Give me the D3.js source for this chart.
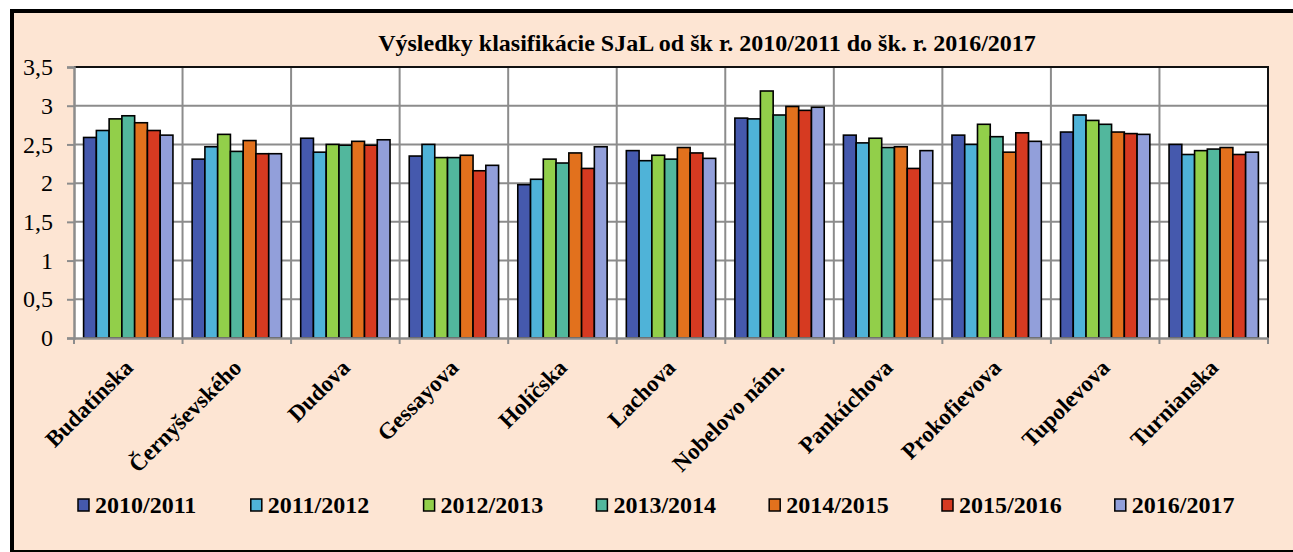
<!DOCTYPE html>
<html><head><meta charset="utf-8">
<script src="https://cdn.jsdelivr.net/npm/d3@7"></script>
<style>
html,body{margin:0;padding:0;background:#fff;}
svg{display:block;}
text{font-family:"Liberation Serif","Times New Roman",serif;}
</style></head>
<body>
<svg id="chart" width="1293" height="552"></svg>
<script>
const categories = ["Budatínska","Černyševského","Dudova","Gessayova","Holíčska","Lachova","Nobelovo nám.","Pankúchova","Prokofievova","Tupolevova","Turnianska"];
const seriesNames = ["2010/2011","2011/2012","2012/2013","2013/2014","2014/2015","2015/2016","2016/2017"];
const seriesColors = ["#4559ad","#4fb3d8","#92cf4a","#52b79d","#e2711d","#d63a21","#929fda"];
const s2010 = [2.59,2.31,2.58,2.35,1.98,2.42,2.84,2.62,2.62,2.66,2.50];
const s2011 = [2.68,2.47,2.40,2.50,2.05,2.29,2.83,2.52,2.50,2.88,2.37];
const s2012 = [2.83,2.63,2.50,2.33,2.31,2.36,3.19,2.58,2.76,2.81,2.42];
const s2013 = [2.87,2.41,2.49,2.33,2.26,2.31,2.88,2.46,2.60,2.76,2.44];
const s2014 = [2.78,2.55,2.54,2.36,2.39,2.46,2.99,2.47,2.40,2.66,2.46];
const s2015 = [2.68,2.38,2.49,2.16,2.19,2.39,2.94,2.19,2.65,2.64,2.37];
const s2016 = [2.62,2.38,2.56,2.23,2.47,2.32,2.98,2.42,2.54,2.63,2.40];
const yTicks = [0,0.5,1,1.5,2,2.5,3,3.5];
const yTickLabels = ["0","0,5","1","1,5","2","2,5","3","3,5"];
const title = "Výsledky klasifikácie SJaL od šk r. 2010/2011 do šk. r. 2016/2017";

const seriesValues = [s2010,s2011,s2012,s2013,s2014,s2015,s2016];

const svg = d3.select("#chart");
const W = 1293, H = 552;
const plot = {left:74, right:1268, top:67, bottom:338};

// chart area background + frame
svg.append("rect").attr("x",12).attr("y",11).attr("width",1400).attr("height",541)
  .attr("fill","#fde5d3").attr("stroke","#000").attr("stroke-width",4);

const x0 = d3.scaleBand().domain(categories).range([plot.left, plot.right]).padding(0);
const groupPad = 9.6;
const x1 = d3.scaleBand().domain(seriesNames).range([groupPad, x0.bandwidth()-groupPad]).padding(0);
const y = d3.scaleLinear().domain([0,3.5]).range([plot.bottom, plot.top]);

// plot area
svg.append("rect").attr("x",plot.left).attr("y",plot.top)
  .attr("width",plot.right-plot.left).attr("height",plot.bottom-plot.top).attr("fill","#fff");

// grid lines
const gridColor = "#8c8c8c";
svg.append("g").selectAll("line").data(yTicks.slice(1,-1)).join("line")
  .attr("x1",plot.left).attr("x2",plot.right)
  .attr("y1",d=>y(d)).attr("y2",d=>y(d))
  .attr("stroke",gridColor).attr("stroke-width",2);
svg.append("g").selectAll("line").data(categories.slice(1)).join("line")
  .attr("x1",d=>x0(d)).attr("x2",d=>x0(d))
  .attr("y1",plot.top).attr("y2",plot.bottom)
  .attr("stroke",gridColor).attr("stroke-width",2);

// bars
const groups = svg.append("g").selectAll("g").data(categories).join("g")
  .attr("transform",d=>`translate(${x0(d)},0)`);
groups.selectAll("rect").data((c,ci)=>seriesNames.map((s,si)=>({s,si,v:seriesValues[si][ci]}))).join("rect")
  .attr("x",d=>x1(d.s)).attr("width",x1.bandwidth())
  .attr("y",d=>y(d.v)).attr("height",d=>y(0)-y(d.v))
  .attr("fill",d=>seriesColors[d.si]).attr("stroke","#000").attr("stroke-width",1.6);

// plot frame: top & right black
svg.append("line").attr("x1",plot.left).attr("x2",plot.right+1).attr("y1",plot.top).attr("y2",plot.top)
  .attr("stroke","#111").attr("stroke-width",2);
svg.append("line").attr("x1",plot.right).attr("x2",plot.right).attr("y1",plot.top).attr("y2",plot.bottom)
  .attr("stroke","#111").attr("stroke-width",2);

// y axis
const yAxis = d3.axisLeft(y).tickValues(yTicks).tickSize(7).tickPadding(14)
  .tickFormat((d,i)=>yTickLabels[i]);
const gy = svg.append("g").attr("transform",`translate(${plot.left},0)`).call(yAxis);
gy.select(".domain").attr("stroke",gridColor).attr("stroke-width",2.5);
gy.selectAll(".tick line").attr("stroke",gridColor).attr("stroke-width",2);
gy.selectAll(".tick text").attr("font-size",24).attr("fill","#000")
  .attr("font-family","Liberation Serif, Times New Roman, serif");

// x axis
const xAxis = d3.axisBottom(x0).tickSize(0).tickFormat("");
const gx = svg.append("g").attr("transform",`translate(0,${plot.bottom})`).call(xAxis);
gx.select(".domain").attr("stroke",gridColor).attr("stroke-width",2.5);
gx.selectAll(".tick").remove();
svg.append("g").selectAll("line").data(categories.map(c=>x0(c)).concat([plot.right])).join("line")
  .attr("x1",d=>d).attr("x2",d=>d).attr("y1",plot.bottom).attr("y2",plot.bottom+6)
  .attr("stroke",gridColor).attr("stroke-width",2);

// category labels rotated
svg.append("g").selectAll("text").data(categories).join("text")
  .attr("transform",d=>`translate(${x0(d)+x0.bandwidth()/2+6},${plot.bottom+31}) rotate(-45)`)
  .attr("text-anchor","end")
  .attr("font-size",23).attr("font-weight","bold").attr("fill","#000")
  .text(d=>d);

// title
svg.append("text").attr("x",707).attr("y",51).attr("text-anchor","middle")
  .attr("font-size",24).attr("font-weight","bold").attr("fill","#000").text(title);

// legend
const legend = svg.append("g").selectAll("g").data(seriesNames).join("g")
  .attr("transform",(d,i)=>`translate(${78+i*172.8},0)`);
legend.append("rect").attr("x",0).attr("y",499).attr("width",11).attr("height",12)
  .attr("fill",(d,i)=>seriesColors[i]).attr("stroke","#000").attr("stroke-width",1.5);
legend.append("text").attr("x",17).attr("y",513)
  .attr("font-size",24).attr("font-weight","bold").attr("fill","#000").text(d=>d);
</script>
</body></html>
